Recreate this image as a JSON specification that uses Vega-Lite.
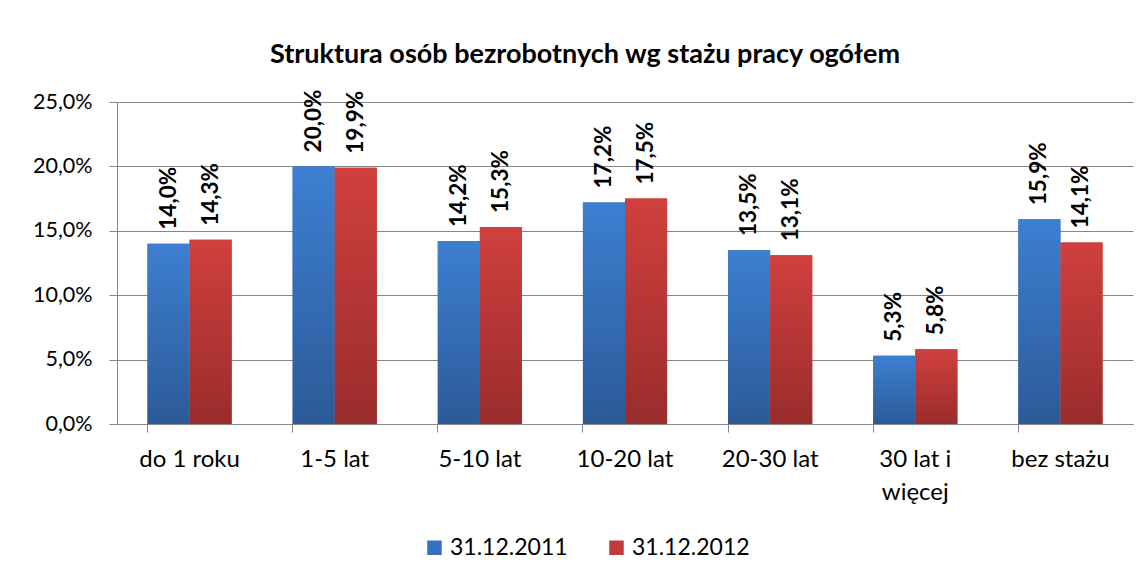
{
  "$schema": "https://vega.github.io/schema/vega-lite/v6.json",
  "autosize": "none",
  "width": 1016,
  "height": 322,
  "padding": {"left": 117, "top": 102, "right": 13, "bottom": 157},
  "background": "white",
  "config": {
    "locale": {"number": {"decimal": ",", "thousands": " ", "grouping": [3], "currency": ["", " zł"]}},
    "font": "Lato",
    "view": {"stroke": null}
  },
  "title": {
    "text": "Struktura osób bezrobotnych wg stażu pracy ogółem",
    "fontSize": 27,
    "fontWeight": "bold",
    "font": "Lato",
    "color": "#000000",
    "anchor": "middle",
    "frame": "group",
    "dx": -40,
    "offset": 21
  },
  "data": {
    "values": [
      {"staz": "do 1 roku", "rok": "31.12.2011", "udzial": 0.140},
      {"staz": "do 1 roku", "rok": "31.12.2012", "udzial": 0.143},
      {"staz": "1-5 lat", "rok": "31.12.2011", "udzial": 0.200},
      {"staz": "1-5 lat", "rok": "31.12.2012", "udzial": 0.199},
      {"staz": "5-10 lat", "rok": "31.12.2011", "udzial": 0.142},
      {"staz": "5-10 lat", "rok": "31.12.2012", "udzial": 0.153},
      {"staz": "10-20 lat", "rok": "31.12.2011", "udzial": 0.172},
      {"staz": "10-20 lat", "rok": "31.12.2012", "udzial": 0.175},
      {"staz": "20-30 lat", "rok": "31.12.2011", "udzial": 0.135},
      {"staz": "20-30 lat", "rok": "31.12.2012", "udzial": 0.131},
      {"staz": "30 lat i więcej", "rok": "31.12.2011", "udzial": 0.053},
      {"staz": "30 lat i więcej", "rok": "31.12.2012", "udzial": 0.058},
      {"staz": "bez stażu", "rok": "31.12.2011", "udzial": 0.159},
      {"staz": "bez stażu", "rok": "31.12.2012", "udzial": 0.141}
    ]
  },
  "encoding": {
    "x": {
      "field": "staz",
      "type": "nominal",
      "sort": null,
      "title": null,
      "scale": {"paddingInner": 0.42, "paddingOuter": 0.21},
      "axis": {
        "labelAngle": 0,
        "labelFontSize": 24,
        "labelFont": "Lato",
        "labelColor": "#000000",
        "labelPadding": 15,
        "labelLineHeight": 33,
        "labelBaseline": "top",
        "labelExpr": "datum.value == '30 lat i więcej' ? ['30 lat i', 'więcej'] : datum.value",
        "bandPosition": 0,
        "tickSize": 8,
        "tickColor": "#868686",
        "domainColor": "#868686",
        "grid": false
      }
    },
    "xOffset": {"field": "rok", "type": "nominal", "scale": {"paddingInner": 0, "paddingOuter": 0}},
    "y": {
      "field": "udzial",
      "type": "quantitative",
      "title": null,
      "scale": {"domain": [0, 0.25], "nice": false},
      "axis": {
        "values": [0, 0.05, 0.1, 0.15, 0.2, 0.25],
        "format": ".1%",
        "labelFontSize": 21.5,
        "labelFont": "Lato",
        "labelColor": "#000000",
        "labelPadding": 17,
        "tickSize": 8,
        "tickColor": "#868686",
        "domainColor": "#868686",
        "gridColor": "#868686",
        "gridWidth": 1
      }
    }
  },
  "layer": [
    {
      "mark": {"type": "bar"},
      "encoding": {
        "color": {
          "field": "rok",
          "type": "nominal",
          "scale": {"domain": ["31.12.2011", "31.12.2012"], "range": ["#3770c0", "#c03a3a"]},
          "legend": {
            "title": null,
            "orient": "none",
            "direction": "horizontal",
            "legendX": 306,
            "legendY": 434,
            "symbolType": "square",
            "symbolSize": 210,
            "symbolStrokeWidth": 0,
            "labelFontSize": 23,
            "labelFont": "Lato",
            "labelColor": "#000000",
            "labelOffset": 4,
            "columnPadding": 37
          }
        }
      }
    },
    {
      "mark": {"type": "bar"},
      "encoding": {
        "color": {
          "condition": {
            "test": "datum.rok == '31.12.2011'",
            "value": {"gradient": "linear", "x1": 0, "y1": 0, "x2": 0, "y2": 1, "stops": [{"offset": 0, "color": "#3d7fd1"}, {"offset": 1, "color": "#2c5a98"}]}
          },
          "value": {"gradient": "linear", "x1": 0, "y1": 0, "x2": 0, "y2": 1, "stops": [{"offset": 0, "color": "#d0403e"}, {"offset": 1, "color": "#9a2c2c"}]}
        }
      }
    },
    {
      "mark": {"type": "text", "angle": 270, "align": "left", "baseline": "middle", "dx": 14, "fontSize": 22.5, "fontWeight": "bold", "font": "Lato", "color": "#000000"},
      "encoding": {
        "text": {"field": "udzial", "type": "quantitative", "format": ".1%"}
      }
    }
  ]
}
